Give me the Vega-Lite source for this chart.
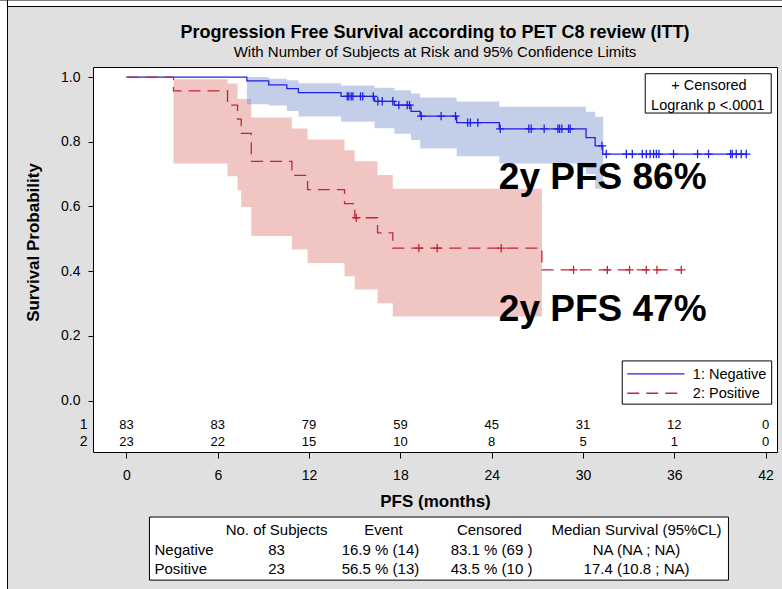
{
  "$schema": "https://vega.github.io/schema/vega-lite/v6.json",
  "width": 684,
  "height": 385,
  "autosize": {"type": "none"},
  "padding": {"left": 93, "top": 67, "right": 5, "bottom": 137},
  "background": "#e0e0e0",
  "title": {
    "text": "Progression Free Survival according to PET C8 review (ITT)",
    "subtitle": "With Number of Subjects at Risk and 95% Confidence Limits",
    "anchor": "middle",
    "frame": "group",
    "font": "Liberation Sans",
    "fontSize": 18,
    "fontWeight": "bold",
    "color": "#000000",
    "subtitleFont": "Liberation Sans",
    "subtitleFontSize": 15,
    "subtitleColor": "#000000",
    "subtitlePadding": 3,
    "offset": -60.5
  },
  "config": {
    "view": {"fill": "white", "stroke": "black", "strokeWidth": 1},
    "axis": {
      "labelFont": "Liberation Sans",
      "titleFont": "Liberation Sans",
      "labelColor": "#000000",
      "titleColor": "#000000",
      "tickColor": "#000000",
      "domain": false,
      "grid": false,
      "labelFontSize": 14,
      "titleFontSize": 17,
      "titleFontWeight": "bold"
    },
    "text": {"font": "Liberation Sans", "color": "#000000"}
  },
  "datasets": {
    "page": [
      {"edge": "left", "t": -12, "t2": -7.82, "s": 1.2381, "s2": -1.2},
      {"edge": "top", "t": -7.82, "t2": 50, "s": 1.2381, "s2": 1.218}
    ],
    "curve": [
      {"grp": "Negative", "t": 0, "s": 1},
      {"grp": "Negative", "t": 7.91, "s": 0.988},
      {"grp": "Negative", "t": 9.35, "s": 0.976},
      {"grp": "Negative", "t": 10.54, "s": 0.964},
      {"grp": "Negative", "t": 11.3, "s": 0.952},
      {"grp": "Negative", "t": 14.1, "s": 0.94},
      {"grp": "Negative", "t": 16.3, "s": 0.925},
      {"grp": "Negative", "t": 17.6, "s": 0.913},
      {"grp": "Negative", "t": 18.7, "s": 0.894},
      {"grp": "Negative", "t": 19.3, "s": 0.879},
      {"grp": "Negative", "t": 21.7, "s": 0.859},
      {"grp": "Negative", "t": 24.5, "s": 0.84},
      {"grp": "Negative", "t": 30.2, "s": 0.813},
      {"grp": "Negative", "t": 30.8, "s": 0.787},
      {"grp": "Negative", "t": 31.3, "s": 0.762},
      {"grp": "Negative", "t": 40.73, "s": 0.762},
      {"grp": "Positive", "t": 0, "s": 1},
      {"grp": "Positive", "t": 3.09, "s": 0.957},
      {"grp": "Positive", "t": 6.64, "s": 0.913},
      {"grp": "Positive", "t": 7.3, "s": 0.87},
      {"grp": "Positive", "t": 7.54, "s": 0.826},
      {"grp": "Positive", "t": 8.2, "s": 0.739},
      {"grp": "Positive", "t": 10.87, "s": 0.696},
      {"grp": "Positive", "t": 11.9, "s": 0.652},
      {"grp": "Positive", "t": 14.33, "s": 0.609},
      {"grp": "Positive", "t": 15.0, "s": 0.565},
      {"grp": "Positive", "t": 16.5, "s": 0.518},
      {"grp": "Positive", "t": 17.5, "s": 0.471},
      {"grp": "Positive", "t": 27.3, "s": 0.404},
      {"grp": "Positive", "t": 36.46, "s": 0.404}
    ],
    "band": [
      {"grp": "Positive", "t": 3.09, "s": 0.733, "s2": 0.993},
      {"grp": "Positive", "t": 6.64, "s": 0.693, "s2": 0.98},
      {"grp": "Positive", "t": 7.3, "s": 0.65, "s2": 0.932},
      {"grp": "Positive", "t": 7.54, "s": 0.598, "s2": 0.932},
      {"grp": "Positive", "t": 8.2, "s": 0.509, "s2": 0.875},
      {"grp": "Positive", "t": 10.87, "s": 0.467, "s2": 0.841},
      {"grp": "Positive", "t": 11.9, "s": 0.425, "s2": 0.807},
      {"grp": "Positive", "t": 14.33, "s": 0.384, "s2": 0.774},
      {"grp": "Positive", "t": 15.0, "s": 0.343, "s2": 0.74},
      {"grp": "Positive", "t": 16.5, "s": 0.301, "s2": 0.697},
      {"grp": "Positive", "t": 17.5, "s": 0.26, "s2": 0.655},
      {"grp": "Positive", "t": 27.3, "s": 0.26, "s2": 0.655},
      {"grp": "Negative", "t": 7.91, "s": 0.916, "s2": 1.0},
      {"grp": "Negative", "t": 9.35, "s": 0.912, "s2": 0.995},
      {"grp": "Negative", "t": 10.54, "s": 0.895, "s2": 0.99},
      {"grp": "Negative", "t": 11.3, "s": 0.878, "s2": 0.981},
      {"grp": "Negative", "t": 14.1, "s": 0.862, "s2": 0.974},
      {"grp": "Negative", "t": 16.3, "s": 0.842, "s2": 0.967},
      {"grp": "Negative", "t": 17.6, "s": 0.825, "s2": 0.959},
      {"grp": "Negative", "t": 18.7, "s": 0.805, "s2": 0.949},
      {"grp": "Negative", "t": 19.3, "s": 0.779, "s2": 0.937},
      {"grp": "Negative", "t": 21.7, "s": 0.755, "s2": 0.924},
      {"grp": "Negative", "t": 24.5, "s": 0.733, "s2": 0.908},
      {"grp": "Negative", "t": 30.2, "s": 0.7, "s2": 0.893},
      {"grp": "Negative", "t": 30.8, "s": 0.655, "s2": 0.877},
      {"grp": "Negative", "t": 31.33, "s": 0.655, "s2": 0.877}
    ],
    "cens": [
      {"grp": "Negative", "t": 14.51, "s": 0.94},
      {"grp": "Negative", "t": 14.61, "s": 0.94},
      {"grp": "Negative", "t": 14.77, "s": 0.94},
      {"grp": "Negative", "t": 14.88, "s": 0.94},
      {"grp": "Negative", "t": 15.38, "s": 0.94},
      {"grp": "Negative", "t": 15.53, "s": 0.94},
      {"grp": "Negative", "t": 16.22, "s": 0.94},
      {"grp": "Negative", "t": 16.52, "s": 0.925},
      {"grp": "Negative", "t": 16.81, "s": 0.925},
      {"grp": "Negative", "t": 17.5, "s": 0.925},
      {"grp": "Negative", "t": 17.9, "s": 0.913},
      {"grp": "Negative", "t": 18.45, "s": 0.913},
      {"grp": "Negative", "t": 18.6, "s": 0.913},
      {"grp": "Negative", "t": 19.37, "s": 0.879},
      {"grp": "Negative", "t": 20.68, "s": 0.879},
      {"grp": "Negative", "t": 21.62, "s": 0.879},
      {"grp": "Negative", "t": 22.42, "s": 0.859},
      {"grp": "Negative", "t": 22.6, "s": 0.859},
      {"grp": "Negative", "t": 23.09, "s": 0.859},
      {"grp": "Negative", "t": 24.56, "s": 0.84},
      {"grp": "Negative", "t": 26.44, "s": 0.84},
      {"grp": "Negative", "t": 26.6, "s": 0.84},
      {"grp": "Negative", "t": 27.45, "s": 0.84},
      {"grp": "Negative", "t": 28.35, "s": 0.84},
      {"grp": "Negative", "t": 28.46, "s": 0.84},
      {"grp": "Negative", "t": 28.61, "s": 0.84},
      {"grp": "Negative", "t": 29.05, "s": 0.84},
      {"grp": "Negative", "t": 29.16, "s": 0.84},
      {"grp": "Negative", "t": 31.25, "s": 0.787},
      {"grp": "Negative", "t": 31.53, "s": 0.762},
      {"grp": "Negative", "t": 32.85, "s": 0.762},
      {"grp": "Negative", "t": 33.24, "s": 0.762},
      {"grp": "Negative", "t": 33.9, "s": 0.762},
      {"grp": "Negative", "t": 34.16, "s": 0.762},
      {"grp": "Negative", "t": 34.41, "s": 0.762},
      {"grp": "Negative", "t": 34.64, "s": 0.762},
      {"grp": "Negative", "t": 34.82, "s": 0.762},
      {"grp": "Negative", "t": 34.99, "s": 0.762},
      {"grp": "Negative", "t": 35.95, "s": 0.762},
      {"grp": "Negative", "t": 37.53, "s": 0.762},
      {"grp": "Negative", "t": 38.25, "s": 0.762},
      {"grp": "Negative", "t": 39.7, "s": 0.762},
      {"grp": "Negative", "t": 39.81, "s": 0.762},
      {"grp": "Negative", "t": 40.07, "s": 0.762},
      {"grp": "Negative", "t": 40.4, "s": 0.762},
      {"grp": "Negative", "t": 40.73, "s": 0.762},
      {"grp": "Positive", "t": 15.1, "s": 0.565},
      {"grp": "Positive", "t": 19.21, "s": 0.471},
      {"grp": "Positive", "t": 20.42, "s": 0.471},
      {"grp": "Positive", "t": 24.63, "s": 0.471},
      {"grp": "Positive", "t": 29.38, "s": 0.404},
      {"grp": "Positive", "t": 31.6, "s": 0.404},
      {"grp": "Positive", "t": 33.06, "s": 0.404},
      {"grp": "Positive", "t": 34.16, "s": 0.404},
      {"grp": "Positive", "t": 34.86, "s": 0.404},
      {"grp": "Positive", "t": 36.46, "s": 0.404}
    ],
    "risk": [
      {"grp": "1", "t": 0, "s": -0.074, "n": 83},
      {"grp": "1", "t": 6, "s": -0.074, "n": 83},
      {"grp": "1", "t": 12, "s": -0.074, "n": 79},
      {"grp": "1", "t": 18, "s": -0.074, "n": 59},
      {"grp": "1", "t": 24, "s": -0.074, "n": 45},
      {"grp": "1", "t": 30, "s": -0.074, "n": 31},
      {"grp": "1", "t": 36, "s": -0.074, "n": 12},
      {"grp": "1", "t": 42, "s": -0.074, "n": 0},
      {"grp": "2", "t": 0, "s": -0.127, "n": 23},
      {"grp": "2", "t": 6, "s": -0.127, "n": 22},
      {"grp": "2", "t": 12, "s": -0.127, "n": 15},
      {"grp": "2", "t": 18, "s": -0.127, "n": 10},
      {"grp": "2", "t": 24, "s": -0.127, "n": 8},
      {"grp": "2", "t": 30, "s": -0.127, "n": 5},
      {"grp": "2", "t": 36, "s": -0.127, "n": 1},
      {"grp": "2", "t": 42, "s": -0.127, "n": 0}
    ],
    "risklab": [
      {"t": -2.56, "s": -0.074, "label": "1"},
      {"t": -2.56, "s": -0.127, "label": "2"}
    ],
    "ann": [
      {"t": 24.47, "s": 0.655, "label": "2y PFS 86%"},
      {"t": 24.47, "s": 0.245, "label": "2y PFS 47%"}
    ],
    "boxes": [
      {"box": "censored", "t": 34.09, "t2": 42.37, "s": 1.0102, "s2": 0.8887},
      {"box": "legend", "t": 32.58, "t2": 42.4, "s": 0.1225, "s2": -0.0111},
      {"box": "table", "t": 1.51, "t2": 39.56, "s": -0.36, "s2": -0.555}
    ],
    "boxtext": [
      {"t": 38.28, "s": 0.9585, "label": "+ Censored"},
      {"t": 38.2, "s": 0.899, "label": "Logrank p <.0001"}
    ],
    "legend": [
      {"grp": "Negative", "t": 32.91, "t2": 36.67, "s": 0.0823, "tl": 37.22, "sl": 0.0659, "label": "1: Negative"},
      {"grp": "Positive", "t": 32.91, "t2": 36.3, "s": 0.0226, "tl": 37.22, "sl": 0.0071, "label": "2: Positive"}
    ],
    "tableLeft": [
      {"t": 1.84, "s": -0.462, "label": "Negative"},
      {"t": 1.84, "s": -0.521, "label": "Positive"}
    ],
    "tableCells": [
      {"t": 9.86, "s": -0.4, "label": "No. of Subjects"},
      {"t": 16.89, "s": -0.4, "label": "Event"},
      {"t": 23.85, "s": -0.4, "label": "Censored"},
      {"t": 33.52, "s": -0.4, "label": "Median Survival (95%CL)"},
      {"t": 9.86, "s": -0.462, "label": "83"},
      {"t": 16.69, "s": -0.462, "label": "16.9 % (14)"},
      {"t": 23.99, "s": -0.462, "label": "83.1 % (69 )"},
      {"t": 33.52, "s": -0.462, "label": "NA (NA ; NA)"},
      {"t": 9.86, "s": -0.521, "label": "23"},
      {"t": 16.69, "s": -0.521, "label": "56.5 % (13)"},
      {"t": 23.99, "s": -0.521, "label": "43.5 % (10 )"},
      {"t": 33.52, "s": -0.521, "label": "17.4 (10.8 ; NA)"}
    ]
  },
  "encoding": {
    "x": {
      "field": "t",
      "type": "quantitative",
      "scale": {"domain": [-2.2, 42.75], "nice": false, "zero": false},
      "axis": {
        "title": "PFS (months)",
        "values": [0, 6, 12, 18, 24, 30, 36, 42],
        "format": "d",
        "tickSize": 6,
        "labelPadding": 10,
        "titlePadding": 11
      }
    },
    "y": {
      "field": "s",
      "type": "quantitative",
      "scale": {"domain": [-0.159, 1.031], "nice": false, "zero": false},
      "axis": {
        "title": "Survival Probability",
        "values": [0, 0.2, 0.4, 0.6, 0.8, 1.0],
        "format": ".1f",
        "tickSize": 5,
        "labelPadding": 8,
        "titlePadding": 18,
        "titleY": 175
      }
    }
  },
  "layer": [
    {
      "data": {"name": "page"},
      "mark": {"type": "rect", "fill": "white", "stroke": "black", "strokeWidth": 1},
      "encoding": {
        "x2": {"field": "t2"},
        "y2": {"field": "s2"}
      }
    },
    {
      "data": {"name": "band"},
      "mark": {"type": "area", "interpolate": "step-after", "fillOpacity": 0.4},
      "encoding": {
        "y2": {"field": "s2"},
        "color": {"field": "grp", "type": "nominal", "scale": {"domain": ["Negative", "Positive"], "range": ["#6a86c8", "#dc6e64"]}, "legend": null}
      }
    },
    {
      "data": {"name": "curve"},
      "mark": {"type": "line", "interpolate": "step-after", "strokeWidth": 1.3},
      "encoding": {
        "stroke": {"field": "grp", "type": "nominal", "scale": {"domain": ["Negative", "Positive"], "range": ["#2020ea", "#c3263a"]}, "legend": null},
        "strokeDash": {"field": "grp", "type": "nominal", "scale": {"domain": ["Negative", "Positive"], "range": [[1, 0], [12, 7]]}, "legend": null}
      }
    },
    {
      "data": {"name": "cens"},
      "mark": {"type": "point", "shape": "M0,-1V1M-1,0H1", "size": 70, "filled": false, "strokeWidth": 1.3, "opacity": 1},
      "encoding": {
        "stroke": {"field": "grp", "type": "nominal", "legend": null}
      }
    },
    {
      "data": {"name": "risk"},
      "mark": {"type": "text", "fontSize": 13, "align": "center", "baseline": "middle"},
      "encoding": {"text": {"field": "n", "type": "quantitative"}}
    },
    {
      "data": {"name": "risklab"},
      "mark": {"type": "text", "fontSize": 14, "align": "right", "baseline": "middle"},
      "encoding": {"text": {"field": "label"}}
    },
    {
      "data": {"name": "ann"},
      "mark": {"type": "text", "fontSize": 37, "fontWeight": "bold", "align": "left", "baseline": "alphabetic"},
      "encoding": {"text": {"field": "label"}}
    },
    {
      "data": {"name": "boxes"},
      "mark": {"type": "rect", "fill": "white", "stroke": "black", "strokeWidth": 1},
      "encoding": {"x2": {"field": "t2"}, "y2": {"field": "s2"}}
    },
    {
      "data": {"name": "boxtext"},
      "mark": {"type": "text", "fontSize": 14.5, "align": "center", "baseline": "alphabetic"},
      "encoding": {"text": {"field": "label"}}
    },
    {
      "data": {"name": "legend"},
      "mark": {"type": "rule", "strokeWidth": 1.3},
      "encoding": {
        "x2": {"field": "t2"},
        "stroke": {"field": "grp", "type": "nominal", "legend": null},
        "strokeDash": {"field": "grp", "type": "nominal", "legend": null}
      }
    },
    {
      "data": {"name": "legend"},
      "mark": {"type": "text", "fontSize": 14.5, "align": "left", "baseline": "alphabetic"},
      "encoding": {
        "x": {"field": "tl", "type": "quantitative"},
        "y": {"field": "sl", "type": "quantitative"},
        "text": {"field": "label"}
      }
    },
    {
      "data": {"name": "tableLeft"},
      "mark": {"type": "text", "fontSize": 15, "align": "left", "baseline": "middle"},
      "encoding": {"text": {"field": "label"}}
    },
    {
      "data": {"name": "tableCells"},
      "mark": {"type": "text", "fontSize": 15, "align": "center", "baseline": "middle"},
      "encoding": {"text": {"field": "label"}}
    }
  ]
}
